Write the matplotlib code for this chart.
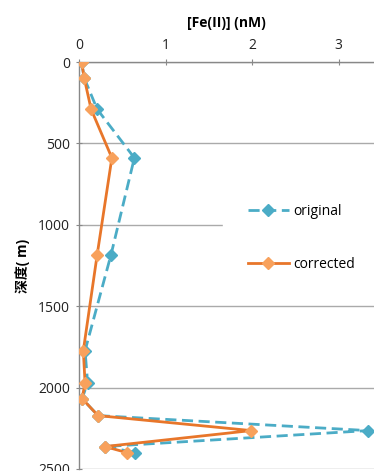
import matplotlib.pyplot as plt

plt.rcParams['font.family'] = ['Open Sans', 'Noto Sans CJK SC', 'DejaVu Sans']

depth = [0, 98, 290, 589, 1184, 1773, 1972, 2067, 2172, 2264, 2362, 2399]
fe_original = [0.03, 0.06, 0.21, 0.64, 0.37, 0.07, 0.10, 0.035, 0.22, 3.34, 0.30, 0.65]
fe_corrected = [0.03, 0.06, 0.14, 0.38, 0.21, 0.05, 0.07, 0.035, 0.22, 1.99, 0.30, 0.55]
y_ticks = [0, 500, 1000, 1500, 2000, 2500]
x_ticks = [0, 1, 2, 3]

blue = '#4BACC6'
orange_line = '#E8762A'
orange_marker = '#F8A15C'

fig = plt.figure(figsize=(3.74, 4.71), dpi=100)
ax = fig.add_axes([79 / 374, 2 / 471, 1 - 79 / 374, (469 - 62) / 471])

ax.plot(fe_original, depth, color=blue, linestyle=(0, (4, 2)), linewidth=2,
        marker='D', markersize=6.5, markerfacecolor=blue, markeredgecolor=blue,
        label='original', zorder=3)
ax.plot(fe_corrected, depth, color=orange_line, linewidth=2,
        marker='D', markersize=6.5, markerfacecolor=orange_marker,
        markeredgecolor=orange_marker, label='corrected', zorder=4)

ax.set_xlim(0, 3.41)
ax.set_ylim(2500, 0)
ax.set_xticks(x_ticks)
ax.set_yticks(y_ticks)
ax.xaxis.set_ticks_position('top')
ax.xaxis.set_label_position('top')
ax.tick_params(axis='both', direction='inout', length=5, width=0.8, color='#888888',
               labelsize=10, labelcolor='#222222', pad=4)
ax.set_xlabel('[Fe(II)] (nM)', fontsize=10, fontweight='bold', labelpad=8)
ax.set_ylabel('深度( m)', fontsize=10, fontweight='bold', labelpad=6)

ax.grid(axis='y', color='#AAAAAA', linewidth=1)
ax.grid(axis='x', visible=False)
ax.set_axisbelow(True)
for side in ['right', 'bottom']:
    ax.spines[side].set_visible(False)
for side in ['top', 'left']:
    ax.spines[side].set_color('#888888')
    ax.spines[side].set_linewidth(1)

# legend sits in a white box that hides part of the 1000 m gridline
leg = ax.legend(loc='center left', bbox_to_anchor=(216 / 374, 1 - 238 / 471),
                bbox_transform=fig.transFigure, frameon=True,
                fontsize=10, labelspacing=2.7, handlelength=2.95, handletextpad=0.3,
                borderpad=1.8, fancybox=False)
leg.get_frame().set_facecolor('white')
leg.get_frame().set_edgecolor('white')
leg.get_frame().set_alpha(1)

fig.savefig('out.png', dpi=100)
